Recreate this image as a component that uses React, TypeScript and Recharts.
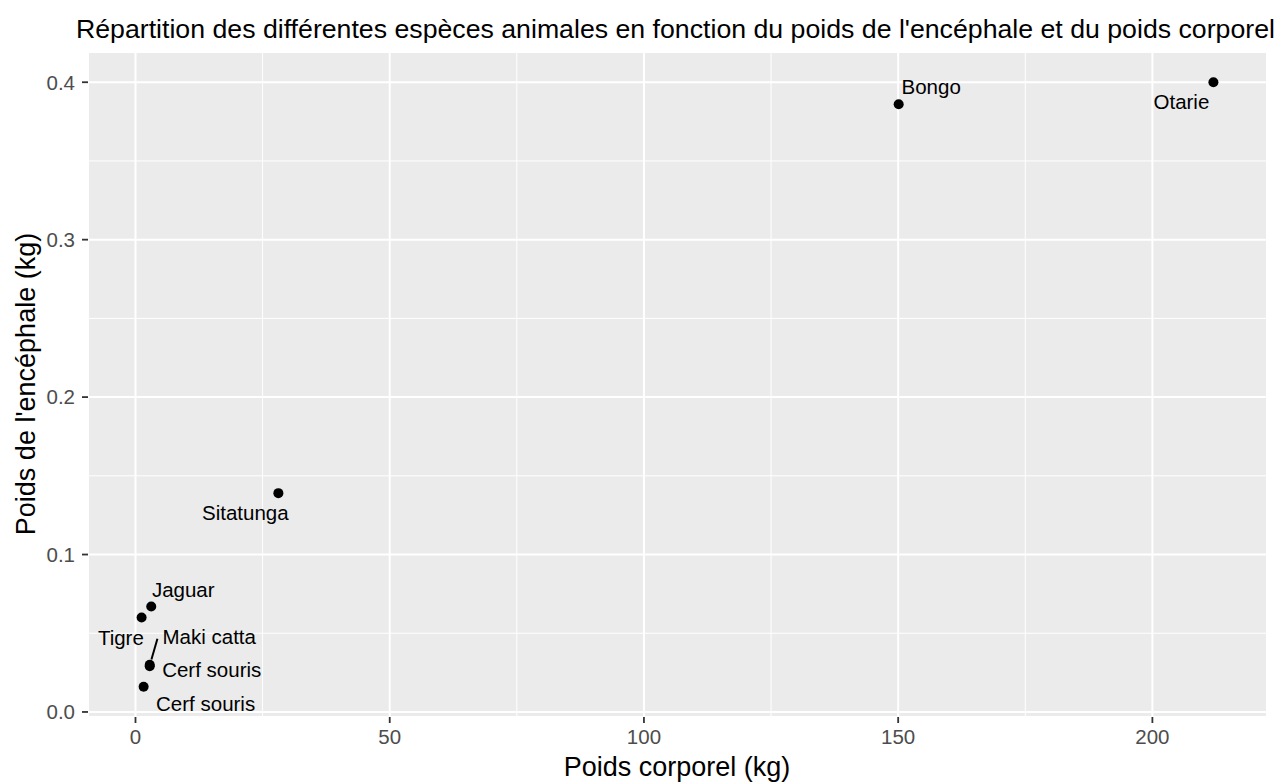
import { ScatterChart, Scatter, XAxis, YAxis, CartesianGrid } from 'recharts';

// Espèces, poids corporel (kg) et poids de l'encéphale (kg)
const animals = ['Otarie', 'Bongo', 'Sitatunga', 'Jaguar', 'Tigre', 'Maki catta', 'Cerf souris', 'Cerf souris'];
const bodyWeight = [212.0, 150.1, 28.1, 3.1, 1.2, 2.8, 2.8, 1.6];
const brainWeight = [0.4, 0.386, 0.139, 0.067, 0.06, 0.03, 0.029, 0.016];

const xTicks = [0, 50, 100, 150, 200];
const xMinor = [25, 75, 125, 175];
const yTicks = [0, 0.1, 0.2, 0.3, 0.4];
const yMinor = [0.05, 0.15, 0.25, 0.35];

// label placement (pixels from the point), mimicking ggrepel output
const labelOffsets: [number, number][] = [
  [-32, 20],
  [32.5, -17],
  [-33, 19.5],
  [32, -17],
  [-20.7, 20],
  [59.5, -28],
  [62, 3.7],
  [62, 17],
];
// optional leader segment: [x1, y1, x2, y2] relative to point
const leaders: (number[] | null)[] = [null, null, null, null, null, [1.7, -5.3, 7.7, -26], null, null];

const W = 1283;
const H = 782;
const FONT = '"Liberation Sans", Arial, sans-serif';

function padDomain(vals: number[]): [number, number] {
  const lo = Math.min(...vals);
  const hi = Math.max(...vals);
  const pad = (hi - lo) * 0.05;
  return [lo - pad, hi + pad];
}

const data = animals.map((name, i) => ({ name, x: bodyWeight[i], y: brainWeight[i], idx: i }));

function Dot(props: any) {
  const { cx, cy, payload } = props;
  if (cx == null || cy == null) return null;
  const i = payload.idx;
  const [dx, dy] = labelOffsets[i];
  const seg = leaders[i];
  return (
    <g>
      <circle cx={cx} cy={cy} r={5} fill="#000" />
      {seg && (
        <line x1={cx + seg[0]} y1={cy + seg[1]} x2={cx + seg[2]} y2={cy + seg[3]} stroke="#000" strokeWidth={2} />
      )}
      <text x={cx + dx} y={cy + dy} dy="0.35em" textAnchor="middle" fontSize={20.5} fill="#000" fontFamily={FONT}>
        {payload.name}
      </text>
    </g>
  );
}

export default function App() {
  const tickStyle = { fill: '#4D4D4D', fontSize: 20.5, fontFamily: FONT };
  return (
    <div style={{ position: 'absolute', left: 0, top: 0, width: W, height: H, background: '#fff', fontFamily: FONT }}>
      <ScatterChart width={W} height={H} margin={{ top: 52, right: 16, bottom: 0, left: 0 }}>
        <CartesianGrid fill="#EBEBEB" stroke="#FFFFFF" strokeWidth={1} horizontalValues={yMinor} verticalValues={xMinor} />
        <CartesianGrid stroke="#FFFFFF" strokeWidth={2} />
        <XAxis
          type="number"
          dataKey="x"
          domain={padDomain(bodyWeight)}
          ticks={xTicks}
          interval={0}
          allowDataOverflow
          axisLine={false}
          tickLine={{ stroke: '#333333', strokeWidth: 1.8 }}
          tickSize={6}
          tickMargin={6}
          height={65}
          tick={tickStyle}
        />
        <YAxis
          type="number"
          dataKey="y"
          domain={padDomain(brainWeight)}
          ticks={yTicks}
          interval={0}
          allowDataOverflow
          axisLine={false}
          tickLine={{ stroke: '#333333', strokeWidth: 1.8 }}
          tickSize={6}
          tickMargin={7}
          width={88}
          tick={tickStyle}
          tickFormatter={(v: number) => v.toFixed(1)}
        />
        <Scatter data={data} shape={Dot} isAnimationActive={false} />
      </ScatterChart>
      <svg width={W} height={H} style={{ position: 'absolute', left: 0, top: 0, pointerEvents: 'none' }}>
        <text x={76} y={37.5} fontSize={26.7} fill="#000" fontFamily={FONT}>
          Répartition des différentes espèces animales en fonction du poids de l'encéphale et du poids corporel
        </text>
        <text x={677} y={775.5} textAnchor="middle" fontSize={27} fill="#000" fontFamily={FONT}>
          Poids corporel (kg)
        </text>
        <text x={35} y={384} textAnchor="middle" fontSize={27} fill="#000" fontFamily={FONT} transform="rotate(-90 35 384)">
          Poids de l'encéphale (kg)
        </text>
      </svg>
    </div>
  );
}
